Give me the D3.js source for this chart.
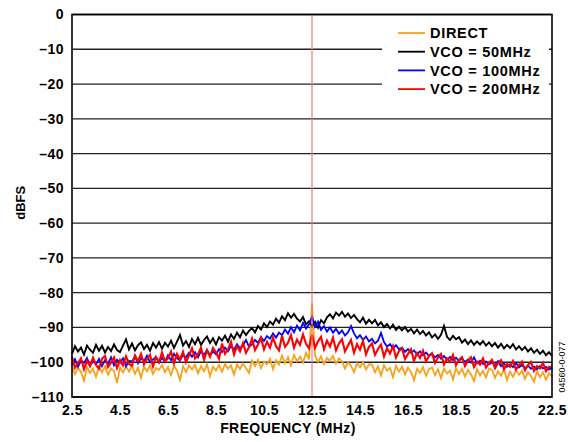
<!DOCTYPE html>
<html>
<head>
<meta charset="utf-8">
<script src="https://cdn.jsdelivr.net/npm/d3@7"></script>
<style>
  body { margin: 0; background: #fff; }
  text { font-family: Arial, "Liberation Sans", sans-serif; }
</style>
</head>
<body>
<svg id="chart" width="568" height="442"></svg>
<script>
// frequency grid (MHz) of the traces, 0.125 MHz step
const freqs = d3.range(161).map(i => 2.5 + i * 0.125);
const yTicks = [0, -10, -20, -30, -40, -50, -60, -70, -80, -90, -100, -110];
const xTicks = [2.5, 4.5, 6.5, 8.5, 10.5, 12.5, 14.5, 16.5, 18.5, 20.5, 22.5];
const carrier = [12.5];

const direct = [
  -101.2,-103.4,-101.6,-102.8,-105.3,-101.4,-103.1,-101.9,-104.2,-101.3,
  -102.9,-101.1,-103.6,-101.8,-102.5,-106.0,-101.5,-103.0,-101.2,-102.7,
  -101.0,-103.3,-101.6,-104.5,-101.3,-102.6,-100.9,-103.4,-101.7,-102.2,
  -100.8,-102.9,-101.4,-103.7,-101.0,-102.4,-105.1,-101.2,-102.8,-100.9,
  -102.1,-100.7,-103.2,-101.1,-102.6,-100.6,-104.0,-101.3,-102.4,-100.8,
  -102.7,-100.5,-101.9,-100.9,-103.6,-100.6,-102.0,-100.4,-101.7,-103.1,
  -99.5,-101.1,-99.3,-101.7,-99.8,-100.6,-99.0,-102.0,-99.4,-100.7,
  -98.1,-100.3,-98.5,-100.9,-97.9,-99.7,-98.4,-100.1,-97.3,-99.2,
  -83.0,-98.0,-99.9,-98.3,-100.5,-98.8,-99.6,-98.2,-100.4,-98.9,
  -99.7,-101.8,-100.1,-101.0,-102.9,-100.3,-101.5,-100.0,-102.1,-100.6,
  -100.7,-102.9,-101.2,-103.8,-100.9,-102.4,-101.6,-104.3,-101.0,-102.7,
  -101.3,-103.5,-101.6,-102.8,-105.2,-101.9,-103.1,-101.4,-103.9,-102.0,
  -101.5,-103.7,-102.0,-104.6,-101.8,-103.2,-102.4,-105.0,-101.7,-103.4,
  -101.9,-104.1,-102.2,-103.5,-105.4,-102.0,-103.8,-102.5,-104.4,-101.8,
  -102.3,-104.5,-102.6,-103.9,-102.1,-105.1,-102.7,-104.2,-102.4,-103.6,
  -102.5,-104.8,-102.8,-104.0,-105.6,-102.6,-104.3,-102.9,-105.0,-103.2,
  -104.1
];
const vco50 = [
  -97.6,-95.4,-96.9,-95.8,-97.8,-95.2,-96.4,-97.3,-95.0,-96.7,
  -95.3,-97.2,-95.6,-96.8,-94.9,-96.5,-97.1,-95.2,-93.4,-96.3,
  -94.6,-96.6,-95.1,-94.3,-96.2,-95.0,-96.7,-94.5,-95.8,-94.2,
  -96.1,-94.4,-95.5,-93.8,-95.9,-94.1,-92.2,-95.2,-93.9,-95.6,
  -93.3,-94.8,-93.0,-95.0,-93.6,-92.6,-94.5,-93.1,-94.9,-92.8,
  -93.8,-92.4,-94.1,-92.0,-93.3,-91.5,-92.8,-90.9,-92.2,-91.0,
  -90.2,-91.4,-89.6,-90.6,-88.8,-89.9,-88.3,-89.2,-87.5,-88.6,
  -86.8,-87.9,-85.9,-87.2,-86.1,-87.5,-88.3,-87.0,-89.1,-88.2,
  -89.6,-88.4,-90.1,-87.9,-88.8,-87.1,-86.2,-87.4,-85.7,-86.6,
  -85.5,-86.9,-86.0,-87.3,-86.4,-87.6,-88.5,-87.2,-88.9,-87.8,
  -88.8,-87.8,-89.4,-88.5,-89.9,-89.0,-90.3,-89.2,-90.7,-89.8,
  -90.8,-89.9,-91.2,-90.4,-91.7,-90.6,-91.9,-91.0,-92.3,-91.4,
  -92.9,-92.0,-93.3,-92.1,-89.6,-92.7,-93.6,-92.4,-93.4,-92.8,
  -94.4,-93.5,-94.8,-93.7,-95.0,-94.0,-94.9,-93.9,-95.2,-94.3,
  -95.4,-94.5,-95.8,-94.7,-96.0,-95.0,-95.9,-94.8,-96.3,-95.4,
  -96.5,-95.6,-96.9,-96.0,-97.3,-96.4,-97.6,-96.7,-98.0,-97.1,
  -98.2
];
const vco100 = [
  -100.8,-99.1,-101.3,-99.5,-100.2,-98.8,-101.0,-99.7,-100.6,-99.0,
  -101.1,-99.4,-100.5,-98.6,-100.9,-99.3,-100.1,-98.9,-101.2,-99.6,
  -99.8,-98.4,-100.3,-98.9,-99.6,-98.1,-100.0,-99.2,-98.5,-100.1,
  -98.7,-99.9,-98.0,-99.4,-97.6,-98.8,-99.5,-97.9,-98.6,-97.3,
  -98.4,-97.1,-98.6,-96.8,-97.9,-96.5,-98.0,-96.9,-97.7,-96.2,
  -97.1,-95.8,-96.9,-95.3,-96.4,-94.8,-96.0,-95.1,-93.6,-95.6,
  -94.9,-93.6,-94.4,-92.8,-93.9,-92.5,-93.2,-91.7,-92.9,-91.5,
  -92.2,-90.6,-91.8,-89.9,-91.4,-89.5,-90.8,-88.7,-90.3,-89.1,
  -87.0,-89.8,-88.3,-90.7,-89.6,-91.2,-90.0,-91.5,-90.4,-91.8,
  -90.9,-92.3,-91.4,-89.6,-91.7,-93.1,-92.2,-93.6,-92.6,-94.0,
  -93.3,-94.6,-93.8,-91.6,-94.2,-95.5,-94.8,-96.0,-95.1,-96.3,
  -95.8,-97.0,-96.2,-97.3,-96.6,-97.7,-96.9,-98.0,-97.2,-98.2,
  -97.6,-98.6,-97.9,-99.0,-98.2,-99.3,-98.5,-99.4,-98.7,-99.6,
  -98.9,-99.9,-99.2,-100.1,-98.6,-100.3,-99.6,-100.5,-99.8,-100.6,
  -100.1,-100.9,-99.7,-101.1,-100.4,-101.3,-100.6,-101.4,-100.2,-101.5,
  -100.8,-101.7,-101.0,-101.9,-101.2,-102.0,-101.1,-101.8,-101.3,-102.1,
  -101.6
];
const vco200 = [
  -98.4,-101.6,-100.3,-98.9,-102.0,-99.6,-101.1,-98.7,-100.8,-101.9,
  -99.0,-98.2,-101.4,-100.1,-98.6,-101.7,-99.4,-100.9,-98.3,-100.5,
  -101.0,-98.0,-99.7,-97.6,-100.6,-99.1,-97.9,-101.2,-98.5,-100.0,
  -97.2,-99.8,-98.9,-96.9,-100.3,-97.6,-99.2,-97.0,-100.0,-98.1,
  -96.0,-98.9,-97.7,-95.8,-99.3,-96.6,-98.4,-95.9,-97.2,-99.0,
  -94.6,-97.6,-96.3,-94.1,-97.8,-95.4,-96.9,-94.5,-97.3,-95.7,
  -93.2,-96.5,-94.9,-93.0,-96.3,-94.1,-95.8,-92.9,-95.4,-96.6,
  -92.4,-95.6,-94.4,-92.2,-95.8,-93.5,-95.0,-92.0,-94.7,-96.0,
  -92.1,-95.9,-94.0,-92.7,-96.3,-93.8,-95.5,-92.9,-96.6,-94.6,
  -93.4,-96.9,-95.2,-93.6,-97.3,-94.8,-96.4,-93.9,-97.7,-95.6,
  -94.6,-97.9,-96.2,-94.9,-98.4,-96.0,-97.5,-95.3,-98.7,-96.8,
  -96.0,-99.1,-97.6,-96.3,-99.6,-97.4,-98.8,-96.7,-99.8,-98.2,
  -97.4,-100.2,-98.6,-97.6,-100.6,-98.9,-99.9,-97.9,-100.8,-99.3,
  -98.5,-101.1,-99.5,-98.6,-101.4,-99.8,-100.7,-98.9,-101.5,-100.1,
  -99.3,-101.7,-100.2,-99.4,-102.0,-100.5,-101.3,-99.6,-102.1,-100.8,
  -99.8,-102.3,-100.8,-99.9,-102.5,-101.1,-101.8,-100.2,-102.6,-101.3,
  -101.4
];

const seriesNames = ["DIRECT", "VCO = 50MHz", "VCO = 100MHz", "VCO = 200MHz"];
const seriesValues = [direct, vco50, vco100, vco200];
const seriesColors = ["#f7a21b", "#000000", "#0000ff", "#ff0000"];
const traceWidths = [1.8, 1.9, 1.8, 2.1];

const margin = { top: 14.5, right: 16, bottom: 45, left: 72 },
    width = 568 - margin.left - margin.right,
    height = 442 - margin.top - margin.bottom;

const svg = d3.select("#chart")
  .append("g")
  .attr("transform", `translate(${margin.left}, ${margin.top})`);

const x = d3.scaleLinear().domain([2.5, 22.5]).range([0, width]);
const y = d3.scaleLinear().domain([-110, 0]).range([height, 0]);
const fmtY = d => d === 0 ? "0" : "\u2013" + Math.abs(d);

// grid lines
svg.selectAll(".grid")
  .data(yTicks)
  .join("line")
  .attr("class", "grid")
  .attr("x1", 0).attr("x2", width)
  .attr("y1", d => y(d)).attr("y2", d => y(d))
  .attr("stroke", "#222").attr("stroke-width", 1.3);

// traces
const line = d3.line().x((d, i) => x(freqs[i])).y(d => y(d));
svg.selectAll(".trace")
  .data(seriesValues)
  .join("path")
  .attr("class", "trace")
  .attr("d", d => line(d))
  .attr("fill", "none")
  .attr("stroke", (d, i) => seriesColors[i])
  .attr("stroke-width", (d, i) => traceWidths[i]);

// carrier marker
svg.selectAll(".carrier")
  .data(carrier)
  .join("line")
  .attr("x1", d => x(d)).attr("x2", d => x(d))
  .attr("y1", y(0)).attr("y2", y(-110))
  .attr("stroke", "#ee7a7a").attr("stroke-width", 1.2);

// axes
const xAxis = svg.append("g")
  .attr("transform", `translate(0, ${height})`)
  .call(d3.axisBottom(x).tickValues(xTicks).tickSize(0).tickPadding(8).tickFormat(d3.format(".1f")));
const yAxis = svg.append("g")
  .call(d3.axisLeft(y).tickValues(yTicks).tickSize(0).tickPadding(8).tickFormat(fmtY));
[xAxis, yAxis].forEach(a => {
  a.select(".domain").remove();
  a.selectAll("text")
    .attr("font-family", "Arial, 'Liberation Sans', sans-serif")
    .attr("font-size", 14).attr("font-weight", "bold")
    .attr("letter-spacing", 0.5).attr("fill", "#000");
});

// frame
svg.append("rect")
  .attr("width", width).attr("height", height)
  .attr("fill", "none").attr("stroke", "#000").attr("stroke-width", 1.6);

// legend
const legend = svg.append("g").attr("transform", "translate(310, 0)");
legend.append("rect")
  .attr("x", 0).attr("y", 8).attr("width", 167).attr("height", 88)
  .attr("fill", "#fff");
seriesNames.forEach((name, i) => {
  const row = legend.append("g").attr("transform", `translate(0, ${18.5 + i * 18.7})`);
  row.append("line")
    .attr("x1", 16).attr("x2", 43)
    .attr("stroke", seriesColors[i]).attr("stroke-width", 1.8);
  row.append("text")
    .attr("x", 48).attr("dy", "0.36em")
    .attr("font-size", 14.5).attr("font-weight", "bold").attr("letter-spacing", 0.7)
    .text(name);
});

// titles
svg.append("text")
  .attr("x", x(11.5)).attr("y", height + 36)
  .attr("text-anchor", "middle")
  .attr("font-size", 14).attr("font-weight", "bold").attr("letter-spacing", 0.4)
  .text("FREQUENCY (MHz)");
svg.append("text")
  .attr("transform", `translate(${-47}, ${height / 2 - 3}) rotate(-90)`)
  .attr("text-anchor", "middle")
  .attr("font-size", 13).attr("font-weight", "bold")
  .text("dBFS");
svg.append("text")
  .attr("transform", `translate(${width + 13}, ${height - 30}) rotate(-90)`)
  .attr("text-anchor", "middle")
  .attr("font-size", 9)
  .text("04560-0-077");
</script>
</body>
</html>
